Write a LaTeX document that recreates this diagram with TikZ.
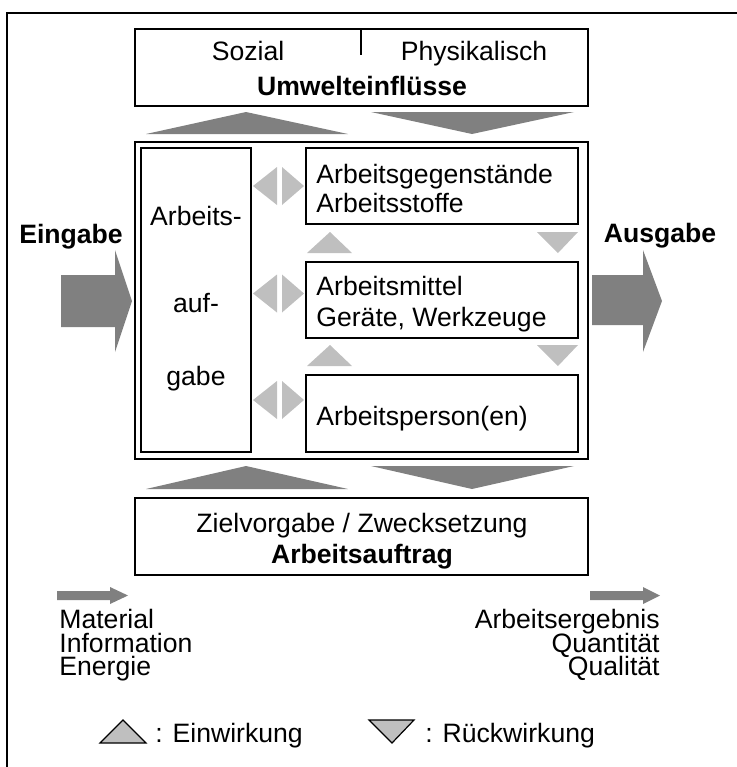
\documentclass[tikz,border=0pt]{standalone}
\usepackage{fontspec}
\setmainfont{Liberation Sans}
\newcommand\tightlines{\fontsize{13.3}{11.75}\selectfont\lineskiplimit-20pt\relax\lineskip0pt\relax}
\begin{document}
\begin{tikzpicture}[x=0.5pt,y=-0.5pt,
  font=\fontsize{13.3}{16}\selectfont,
  box/.style={draw=black,line width=1pt,rectangle,inner sep=0pt},
  txt/.style={inner sep=0pt,anchor=base},
  txtw/.style={inner sep=0pt,anchor=base west},
  txte/.style={inner sep=0pt,anchor=base east},
  bold/.style={font=\fontsize{13.3}{16}\selectfont\bfseries},
  tight/.style={font={\tightlines}},
  dark/.style={fill=black!50,draw=none},
  light/.style={fill=black!25,draw=none},
  legend/.style={fill=black!25,draw=black,line width=0.6pt,line join=miter}]
\useasboundingbox (0,0) rectangle (737,767);
% frame
\draw[line width=1pt] (737,13) -- (7,13) -- (7,767);

% environment box
\node[box,minimum width=226.5pt,minimum height=38.5pt] (umwelt) at (361.5,67.5) {};
\coordinate (divtop) at (361,29);
\coordinate (divbot) at (361,55);
\draw[line width=0.8pt] (divtop) -- (divbot);
\node[txt] (sozial) at (248,60) {Sozial};
\node[txt] (phys) at (474,60) {Physikalisch};
\node[txt,bold] (umwt) at (362,95) {Umwelteinflüsse};

% large triangles above the work system
\fill[dark] (146,134) -- (246,112) -- (348,134) -- cycle;
\fill[dark] (371,112) -- (574,112) -- (472,134) -- cycle;

% work system
\node[box,minimum width=226.5pt,minimum height=158.5pt] (main) at (361.5,300.5) {};
\node[box,minimum width=55pt,minimum height=152pt] (aufgabe) at (196,300) {};
\node[txt] (a1) at (196,225) {Arbeits-};
\node[txt] (a2) at (196,312) {auf-};
\node[txt] (a3) at (196,385) {gabe};

\node[box,minimum width=136pt,minimum height=38pt] (b1) at (442,186) {};
\node[box,minimum width=136pt,minimum height=38pt] (b2) at (442,300) {};
\node[box,minimum width=136pt,minimum height=38.5pt] (b3) at (442,413.5) {};
\node[txtw] (t1a) at (316,183) {Arbeitsgegenstände};
\node[txtw] (t1b) at (316,212) {Arbeitsstoffe};
\node[txtw] (t2a) at (316,295) {Arbeitsmittel};
\node[txtw] (t2b) at (316,326) {Geräte, Werkzeuge};
\node[txtw] (t3) at (316,425) {Arbeitsperson(en)};

% interaction triangles between task and elements
\foreach \yc in {186,293.5,400}{
  \fill[light] (277,\yc-19) -- (277,\yc+19) -- (253,\yc) -- cycle;
  \fill[light] (282,\yc-19) -- (282,\yc+19) -- (304,\yc) -- cycle;
}
\foreach \yt in {232,345}{
  \fill[light] (307,\yt+21) -- (330,\yt) -- (352,\yt+21) -- cycle;
  \fill[light] (537,\yt) -- (578,\yt) -- (558,\yt+21) -- cycle;
}

% input / output arrows
\node[txt,bold] (ein) at (71,243) {Eingabe};
\node[txt,bold] (aus) at (660,242) {Ausgabe};
\fill[dark] (61,275) -- (115,275) -- (115,250) -- (132,301) -- (115,352) -- (115,327) -- (61,327) -- cycle;
\fill[dark] (592,275) -- (643,275) -- (643,250) -- (662,301) -- (643,352) -- (643,325) -- (592,325) -- cycle;

% large triangles below the work system
\fill[dark] (146,489) -- (246,466) -- (348,489) -- cycle;
\fill[dark] (371,466) -- (574,466) -- (472,489) -- cycle;

% task box
\node[box,minimum width=226.5pt,minimum height=38.5pt] (ziel) at (361.5,536.5) {};
\node[txt] (z1) at (362,532) {Zielvorgabe / Zwecksetzung};
\node[txt,bold] (z2) at (362,563) {Arbeitsauftrag};

% small flow arrows
\fill[dark] (57,591) -- (110,591) -- (110,587) -- (128,595.5) -- (110,604) -- (110,600) -- (57,600) -- cycle;
\fill[dark] (590,591) -- (643,591) -- (643,587) -- (660,595.5) -- (643,604) -- (643,600) -- (590,600) -- cycle;
\node[inner sep=0pt,anchor=north west,align=left,tight] (inp) at (59,609)
  {Material\\Information\\Energie};
\node[inner sep=0pt,anchor=north east,align=right,tight] (outp) at (660,609)
  {Arbeitsergebnis\\Quantität\\Qualität};

% legend
\draw[legend] (100,743) -- (123,720) -- (146,743) -- cycle;
\node[txtw] (l1) at (155,742) {: Einwirkung};
\draw[legend] (369,720) -- (414,720) -- (392,743) -- cycle;
\node[txtw] (l2) at (425,742) {: Rückwirkung};
\end{tikzpicture}
\end{document}
